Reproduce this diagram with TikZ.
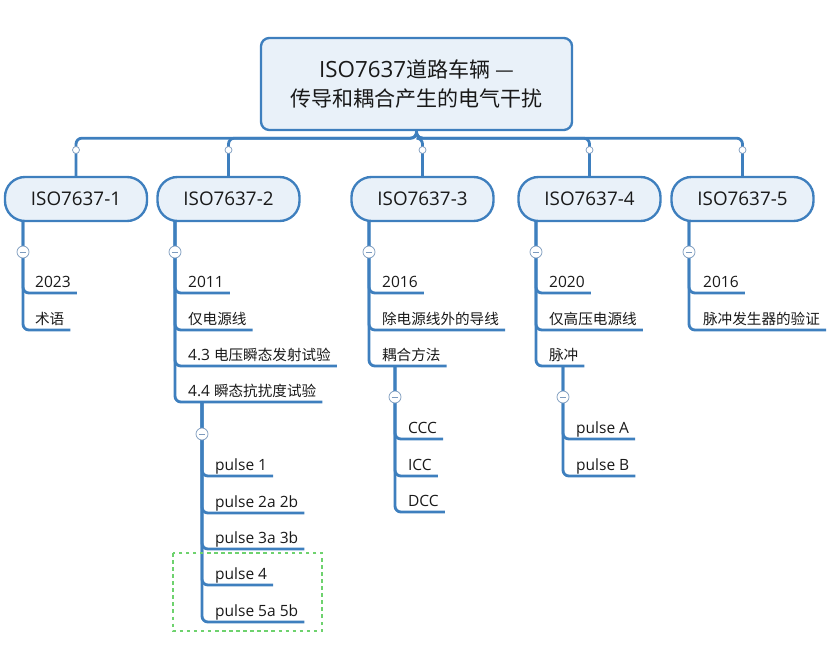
\documentclass[tikz,border=0pt]{standalone}
\usepackage{fontspec}
\setmainfont{Open Sans}
\newfontfamily\cjk{Noto Sans CJK SC}[Scale=0.94]
\usetikzlibrary{positioning}

\definecolor{linkblue}{RGB}{62,127,190}
\definecolor{boxfill}{RGB}{233,241,249}
\definecolor{foldgray}{RGB}{125,155,190}
\definecolor{markgreen}{RGB}{110,210,110}
\definecolor{inkdark}{RGB}{25,25,25}
\newdimen\px \px=0.85pt

\tikzset{
  rootbox/.style={draw=linkblue, line width=2pt, fill=boxfill, rounded corners=7pt,
    minimum width=311\px, minimum height=92\px, align=center, text=inkdark,
    font=\fontsize{19}{24}\selectfont},
  partbox/.style={draw=linkblue, line width=2pt, fill=boxfill, rounded corners=17pt,
    minimum width=142\px, minimum height=44\px, text=inkdark,
    font=\fontsize{16}{20}\selectfont},
  item/.style={anchor=south west, inner xsep=5pt, inner ysep=2pt, text height=0.75em,
    text depth=0.25em, text=inkdark, font=\fontsize{13.2}{15}\selectfont},
  conn/.style={draw=linkblue, line width=2.4pt, rounded corners=5pt},
  knob/.style={circle, draw=foldgray, fill=white, line width=0.6pt, inner sep=0pt,
    minimum size=7\px},
  fold/.style={circle, draw=foldgray, fill=white, line width=0.6pt, inner sep=0pt,
    minimum size=12\px, path picture={\draw[foldgray, line width=0.7pt]
      ([xshift=-2.6pt]path picture bounding box.center) --
      ([xshift=2.6pt]path picture bounding box.center);}},
}

\begin{document}
\begin{tikzpicture}[x=0.85pt, y=-0.85pt]
  \useasboundingbox (0,0) rectangle (837,646);

  % root and parts
  \node[rootbox] (root) at (416.5,84) {ISO7637{\cjk 道路车辆 —}\\{\cjk 传导和耦合产生的电气干扰}};
  \node[partbox] (p1) at (76,199) {ISO7637-1};
  \node[partbox] (p2) at (228.5,199) {ISO7637-2};
  \node[partbox] (p3) at (422.5,199) {ISO7637-3};
  \node[partbox] (p4) at (589.5,199) {ISO7637-4};
  \node[partbox] (p5) at (742.5,199) {ISO7637-5};

  \foreach \p in {p1,p2,p3,p4,p5}
    \draw[conn] (root.south) -- ++(0,7) -| (\p.north);
  \foreach \p in {p1,p2,p3,p4,p5}
    \node[knob] (k\p) at (\p.north |- 0,150) {};

  % ISO7637-1
  \coordinate (v1) at (p1.south -| 23,0);
  \node[item] (a1) at (29,293) {2023};
  \node[item] (a2) at (29,330) {\cjk 术语};
  \foreach \n in {a1,a2} \draw[conn] (v1) |- (\n.south east);
  \node[fold] (f1) at (23,252) {};

  % ISO7637-2
  \coordinate (v2) at (p2.south -| 175,0);
  \node[item] (b1) at (182,293) {2011};
  \node[item] (b2) at (182,330) {\cjk 仅电源线};
  \node[item] (b3) at (182,366) {4.3 {\cjk 电压瞬态发射试验}};
  \node[item] (b4) at (182,402) {4.4 {\cjk 瞬态抗扰度试验}};
  \foreach \n in {b1,b2,b3,b4} \draw[conn] (v2) |- (\n.south east);
  \node[fold] (f2) at (175,252) {};

  \coordinate (v2s) at (b4.south west -| 202,0);
  \node[item] (c1) at (209,476) {pulse 1};
  \node[item] (c2) at (209,513) {pulse 2a 2b};
  \node[item] (c3) at (209,549) {pulse 3a 3b};
  \node[item] (c4) at (209,585) {pulse 4};
  \node[item] (c5) at (209,622) {pulse 5a 5b};
  \foreach \n in {c1,c2,c3,c4,c5} \draw[conn] (v2s) |- (\n.south east);
  \node[fold] (f2s) at (202,434) {};
  \draw[markgreen, dashed, line width=1pt] (173,553) rectangle (322,631);

  % ISO7637-3
  \coordinate (v3) at (p3.south -| 369,0);
  \node[item] (d1) at (376,293) {2016};
  \node[item] (d2) at (376,330) {\cjk 除电源线外的导线};
  \node[item] (d3) at (376,366) {\cjk 耦合方法};
  \foreach \n in {d1,d2,d3} \draw[conn] (v3) |- (\n.south east);
  \node[fold] (f3) at (369,252) {};

  \coordinate (v3s) at (d3.south west -| 395,0);
  \node[item] (e1) at (402,439) {CCC};
  \node[item] (e2) at (402,476) {ICC};
  \node[item] (e3) at (402,512) {DCC};
  \foreach \n in {e1,e2,e3} \draw[conn] (v3s) |- (\n.south east);
  \node[fold] (f3s) at (395,397) {};

  % ISO7637-4
  \coordinate (v4) at (p4.south -| 536,0);
  \node[item] (g1) at (543,293) {2020};
  \node[item] (g2) at (543,330) {\cjk 仅高压电源线};
  \node[item] (g3) at (543,366) {\cjk 脉冲};
  \foreach \n in {g1,g2,g3} \draw[conn] (v4) |- (\n.south east);
  \node[fold] (f4) at (536,252) {};

  \coordinate (v4s) at (g3.south west -| 563,0);
  \node[item] (h1) at (570,439) {pulse A};
  \node[item] (h2) at (570,476) {pulse B};
  \foreach \n in {h1,h2} \draw[conn] (v4s) |- (\n.south east);
  \node[fold] (f4s) at (563,397) {};

  % ISO7637-5
  \coordinate (v5) at (p5.south -| 689,0);
  \node[item] (m1) at (697,293) {2016};
  \node[item] (m2) at (697,330) {\cjk 脉冲发生器的验证};
  \foreach \n in {m1,m2} \draw[conn] (v5) |- (\n.south east);
  \node[fold] (f5) at (689,252) {};
\end{tikzpicture}
\end{document}
